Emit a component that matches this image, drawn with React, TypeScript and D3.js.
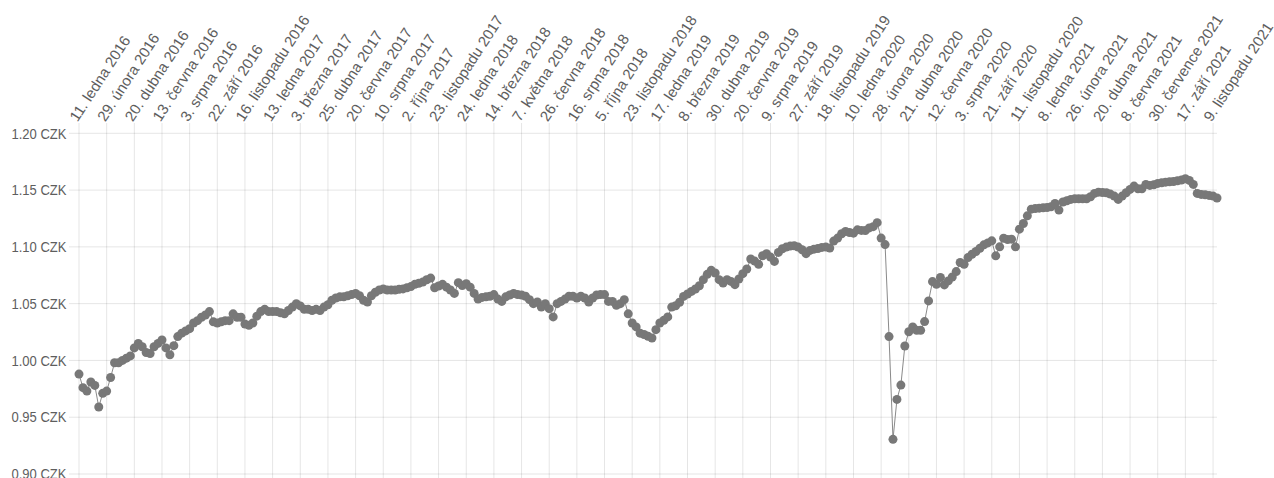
import React from "react";
import * as d3 from "d3";

const tickLabels: string[] = [
  "11. ledna 2016", "29. února 2016", "20. dubna 2016", "13. června 2016", "3. srpna 2016",
  "22. září 2016", "16. listopadu 2016", "13. ledna 2017", "3. března 2017", "25. dubna 2017",
  "20. června 2017", "10. srpna 2017", "2. října 2017", "23. listopadu 2017", "24. ledna 2018",
  "14. března 2018", "7. května 2018", "26. června 2018", "16. srpna 2018", "5. října 2018",
  "23. listopadu 2018", "17. ledna 2019", "8. března 2019", "30. dubna 2019", "20. června 2019",
  "9. srpna 2019", "27. září 2019", "18. listopadu 2019", "10. ledna 2020", "28. února 2020",
  "21. dubna 2020", "12. června 2020", "3. srpna 2020", "21. září 2020", "11. listopadu 2020",
  "8. ledna 2021", "26. února 2021", "20. dubna 2021", "8. června 2021", "30. července 2021",
  "17. září 2021", "9. listopadu 2021",
];

// points between labelled ticks
const labelStep = 7;

const rates2016: number[] = [
  0.988, 0.976, 0.973, 0.981, 0.978, 0.959, 0.971, 0.973, 0.985, 0.998,
  0.998, 1.0, 1.002, 1.004, 1.011, 1.015, 1.012, 1.007, 1.006, 1.012,
  1.015, 1.018, 1.011, 1.005, 1.013, 1.021, 1.024, 1.026, 1.028, 1.033,
  1.035, 1.038, 1.04, 1.043, 1.034, 1.033, 1.034, 1.035, 1.035, 1.041,
  1.038, 1.038, 1.032, 1.031, 1.033, 1.039, 1.043, 1.045, 1.043, 1.043,
];
const rates2017: number[] = [
  1.043, 1.042, 1.041, 1.044, 1.047, 1.05, 1.048, 1.045, 1.045, 1.044,
  1.045, 1.044, 1.047, 1.049, 1.053, 1.055, 1.056, 1.056, 1.057, 1.058,
  1.059, 1.057, 1.053, 1.0515, 1.057, 1.06, 1.062, 1.063, 1.062, 1.062,
  1.062, 1.0626, 1.063, 1.064, 1.065, 1.067, 1.068, 1.069, 1.071, 1.0725,
  1.064, 1.0655, 1.067, 1.0645, 1.062, 1.059, 1.0685, 1.066, 1.0675, 1.0645,
];
const rates2018: number[] = [
  1.059, 1.054, 1.0555, 1.056, 1.0565, 1.058, 1.054, 1.052, 1.056, 1.0576,
  1.059, 1.058, 1.0576, 1.0565, 1.0535, 1.05, 1.0515, 1.047, 1.05, 1.0456,
  1.0383, 1.05, 1.052, 1.054, 1.0565, 1.0565, 1.055, 1.0565, 1.055, 1.0515,
  1.055, 1.0576, 1.058, 1.058, 1.052, 1.052, 1.0485, 1.05, 1.0535, 1.041,
  1.033, 1.0295, 1.024, 1.0228, 1.0213, 1.0198, 1.0271, 1.033, 1.0353, 1.0383,
];
const rates2019: number[] = [
  1.047, 1.0482, 1.0512, 1.0564, 1.0585, 1.0608, 1.0629, 1.0658, 1.0711, 1.0758,
  1.0793, 1.077, 1.0711, 1.0682, 1.0711, 1.0696, 1.0667, 1.0717, 1.0764, 1.0805,
  1.0893, 1.0875, 1.0846, 1.0922, 1.094, 1.091, 1.0872, 1.0951, 1.0983, 1.0998,
  1.1007, 1.101, 1.0998, 1.0975, 1.094, 1.0969, 1.098, 1.0986, 1.0995, 1.0998,
  1.0989, 1.1051, 1.1077, 1.1115, 1.1136, 1.1127, 1.1121, 1.115, 1.1145, 1.1144,
];
const rates2020: number[] = [
  1.1167, 1.1178, 1.1213, 1.1077, 1.102, 1.021, 0.9305, 0.9657, 0.9783, 1.0127,
  1.0253, 1.0294, 1.0265, 1.0265, 1.0342, 1.0524, 1.0694, 1.0671, 1.073, 1.0665,
  1.07, 1.0735, 1.0782, 1.0862, 1.0847, 1.0906, 1.0935, 1.0959, 1.0988, 1.1018,
  1.1035, 1.1053, 1.0921, 1.1, 1.1076, 1.1065, 1.1068, 1.1, 1.1156, 1.1206,
  1.1273, 1.1332, 1.1338, 1.1341, 1.1344, 1.1347, 1.1353, 1.1382, 1.1324, 1.1395,
];
const rates2021: number[] = [
  1.1406, 1.1418, 1.1424, 1.1424, 1.1424, 1.1424, 1.1441, 1.1471, 1.1482, 1.1479,
  1.1477, 1.1465, 1.1447, 1.1418, 1.1447, 1.1477, 1.1506, 1.1535, 1.1512, 1.1512,
  1.155, 1.1541, 1.1547, 1.1559, 1.1564, 1.157, 1.1573, 1.1576, 1.1582, 1.1588,
  1.16, 1.1585, 1.155, 1.1471, 1.1462, 1.1459, 1.1453, 1.1447, 1.143,
];

const yTicks: number[] = [0.9, 0.95, 1.0, 1.05, 1.1, 1.15, 1.2];

const rates: number[] = [
  ...rates2016, ...rates2017, ...rates2018, ...rates2019, ...rates2020, ...rates2021,
];

const W = 1274;
const H = 478;
const FONT = "'Liberation Sans', Arial, Helvetica, sans-serif";
const TEXT = "#5e5e5e";
const GRID = "rgba(0,0,0,0.1)";

export default function App() {
  const n = rates.length;
  const x = d3.scaleLinear().domain([0, n - 1]).range([79, 1217]);
  const y = d3.scaleLinear().domain([0.9, 1.2]).range([474, 133.3]);

  const line = d3
    .line<number>()
    .x((_, i) => x(i))
    .y((d) => y(d));

  const tickIdx = tickLabels.map((_, k) => k * labelStep);

  return (
    <svg
      width={W}
      height={H}
      style={{ position: "absolute", left: 0, top: 0, display: "block", background: "#fff" }}
      fontFamily={FONT}
    >
      {/* horizontal grid */}
      {yTicks.map((t) => (
        <g key={"h" + t}>
          <line x1={69} x2={1217} y1={y(t)} y2={y(t)} stroke={GRID} strokeWidth={1} />
          <text
            x={66.5}
            y={y(t)}
            dy="0.36em"
            textAnchor="end"
            fontSize={14.5}
            fill={TEXT}
            textLength={55}
            lengthAdjust="spacingAndGlyphs"
          >
            {t.toFixed(2) + " CZK"}
          </text>
        </g>
      ))}
      {/* vertical grid + labels */}
      {tickIdx.map((idx, k) => (
        <g key={"v" + k}>
          <line x1={x(idx)} x2={x(idx)} y1={123} y2={H} stroke={GRID} strokeWidth={1} />
          <text
            transform={`translate(${x(idx) - 1.5},${122.5}) rotate(-57)`}
            textAnchor="start"
            fontSize={15}
            fill={TEXT}
          >
            {tickLabels[k]}
          </text>
        </g>
      ))}
      {/* series */}
      <path d={line(rates) || ""} fill="none" stroke="#8a8a8a" strokeWidth={1} />
      {rates.map((v, i) => (
        <circle key={"p" + i} cx={x(i)} cy={y(v)} r={4.5} fill="#787878" />
      ))}
    </svg>
  );
}
